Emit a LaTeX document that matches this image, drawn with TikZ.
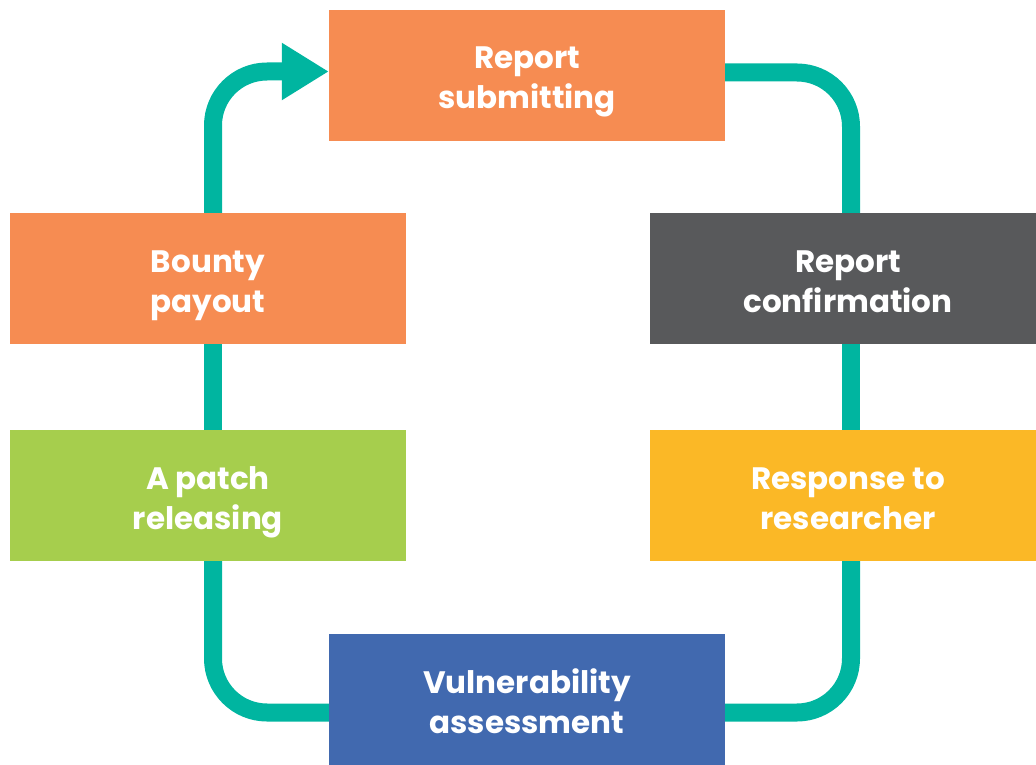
\documentclass[tikz,border=0pt]{standalone}
\usepackage{fontspec}
\setmainfont{Poppins}
\usetikzlibrary{arrows.meta,backgrounds}
\definecolor{corange}{RGB}{246,140,82}
\definecolor{cgray}{RGB}{88,89,91}
\definecolor{cyellow}{RGB}{251,184,38}
\definecolor{cgreen}{RGB}{166,206,77}
\definecolor{cblue}{RGB}{65,105,175}
\definecolor{cteal}{RGB}{0,181,160}
\newcommand{\twolines}[2]{\raisebox{-5.5pt}[\height][\depth]{\begin{tabular}{@{}c@{}}#1\\#2\end{tabular}}}
\tikzset{
  box/.style={rectangle, minimum width=396pt, minimum height=131pt, inner sep=0pt,
    text=white, align=center, font=\fontsize{31}{40}\selectfont\bfseries},
  loopline/.style={draw=cteal, line width=18pt, rounded corners=54pt}
}
\begin{document}
\begin{tikzpicture}[x=1pt,y=-1pt]
\useasboundingbox (0,0) rectangle (1036,765);
\node[box, fill=corange] (top) at (527,75.5) {\twolines{Report}{submitting}};
\node[box, fill=corange] (bounty) at (208,278.5) {\twolines{Bounty}{payout}};
\node[box, fill=cgray] (conf) at (848,278.5) {\twolines{Report}{confirmation}};
\node[box, fill=cgreen] (patch) at (208,495.5) {\twolines{A patch}{releasing}};
\node[box, fill=cyellow] (resp) at (848,495.5) {\twolines{Response to}{researcher}};
\node[box, fill=cblue] (vuln) at (527,699.5) {\twolines{Vulnerability}{assessment}};
\begin{scope}[on background layer]
\draw[loopline] ([yshift=3pt]top.east) -| ([xshift=3pt]conf.north);
\draw[loopline] ([xshift=3pt]conf.south) -- ([xshift=3pt]resp.north);
\draw[loopline] ([xshift=3pt]resp.south) |- ([yshift=-13pt]vuln.east);
\draw[loopline] ([yshift=-13pt]vuln.west) -| ([xshift=5pt]patch.south);
\draw[loopline] ([xshift=5pt]patch.north) -- ([xshift=5pt]bounty.south);
\draw[loopline, -{Triangle[length=47pt,width=54pt]}] ([xshift=5pt]bounty.north) |- ([yshift=4pt]top.west);
\end{scope}
\end{tikzpicture}
\end{document}
